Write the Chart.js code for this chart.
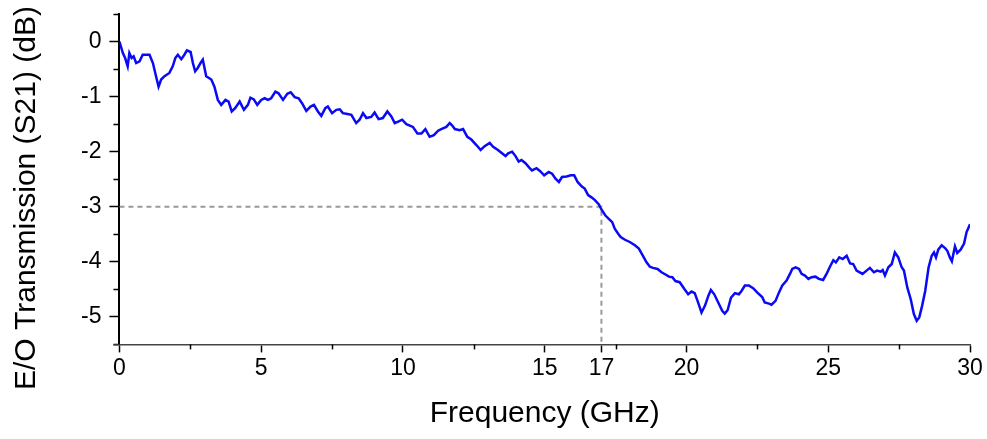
<!DOCTYPE html>
<html><head><meta charset="utf-8">
<script src="https://cdn.jsdelivr.net/npm/chart.js@4.4.0/dist/chart.umd.min.js"></script>
<style>html,body{margin:0;padding:0;background:#fff}#wrap{width:987px;height:439px;position:relative}</style>
</head><body><div id="wrap"><canvas id="c"></canvas></div>
<script>
const freqGHz = [0.0,0.12,0.2,0.29,0.35,0.43,0.5,0.59,0.71,0.82,0.94,1.06,1.18,1.29,1.38,1.47,1.59,1.76,1.88,1.97,2.06,2.18,2.29,2.38,2.51,2.59,2.67,2.76,2.86,2.94,3.06,3.24,3.35,3.47,3.59,3.74,3.85,3.96,4.08,4.24,4.39,4.53,4.62,4.74,4.86,5.0,5.12,5.24,5.35,5.5,5.61,5.77,5.92,6.04,6.18,6.32,6.44,6.59,6.74,6.86,7.0,7.12,7.26,7.35,7.5,7.65,7.77,7.88,8.0,8.18,8.35,8.47,8.59,8.71,8.88,9.0,9.14,9.29,9.45,9.59,9.71,9.85,9.97,10.12,10.35,10.51,10.65,10.79,10.94,11.09,11.24,11.35,11.53,11.65,11.73,11.83,12.0,12.12,12.27,12.41,12.59,12.74,12.88,13.06,13.18,13.35,13.47,13.62,13.71,13.85,13.97,14.08,14.18,14.32,14.47,14.55,14.71,14.83,14.98,15.14,15.26,15.38,15.5,15.61,15.77,15.92,16.04,16.16,16.3,16.41,16.53,16.65,16.77,16.91,17.0,17.14,17.26,17.38,17.47,17.59,17.68,17.83,18.0,18.18,18.32,18.44,18.59,18.71,18.82,18.98,19.12,19.26,19.38,19.5,19.61,19.76,19.92,20.06,20.18,20.29,20.39,20.53,20.65,20.77,20.86,20.98,21.12,21.26,21.35,21.45,21.57,21.71,21.85,21.94,22.06,22.2,22.35,22.5,22.67,22.76,22.91,23.0,23.14,23.26,23.38,23.53,23.65,23.73,23.85,23.97,24.06,24.18,24.3,24.41,24.55,24.67,24.82,24.94,25.06,25.18,25.27,25.39,25.51,25.65,25.77,25.88,26.0,26.21,26.35,26.47,26.61,26.72,26.85,26.92,27.0,27.12,27.24,27.35,27.47,27.59,27.67,27.79,27.91,28.02,28.12,28.21,28.31,28.42,28.54,28.65,28.73,28.8,28.88,29.0,29.12,29.2,29.29,29.36,29.47,29.55,29.67,29.79,29.88,30.0];
const s21dB = [0.0,-0.21,-0.30,-0.45,-0.21,-0.30,-0.27,-0.39,-0.36,-0.24,-0.24,-0.24,-0.39,-0.63,-0.82,-0.69,-0.63,-0.57,-0.45,-0.30,-0.24,-0.32,-0.24,-0.16,-0.19,-0.39,-0.54,-0.48,-0.39,-0.33,-0.63,-0.69,-0.82,-1.06,-1.15,-1.06,-1.09,-1.27,-1.21,-1.09,-1.24,-1.15,-1.02,-1.05,-1.15,-1.06,-1.03,-1.06,-1.03,-0.91,-0.94,-1.06,-0.95,-0.92,-1.01,-1.03,-1.12,-1.26,-1.18,-1.15,-1.27,-1.35,-1.21,-1.18,-1.30,-1.24,-1.23,-1.30,-1.31,-1.33,-1.48,-1.42,-1.30,-1.39,-1.37,-1.29,-1.41,-1.39,-1.27,-1.36,-1.48,-1.45,-1.42,-1.50,-1.55,-1.67,-1.67,-1.59,-1.73,-1.70,-1.62,-1.59,-1.55,-1.48,-1.52,-1.59,-1.61,-1.59,-1.73,-1.78,-1.88,-1.97,-1.90,-1.84,-1.91,-1.97,-2.02,-2.08,-2.03,-2.00,-2.08,-2.18,-2.15,-2.21,-2.30,-2.34,-2.30,-2.35,-2.43,-2.37,-2.40,-2.49,-2.55,-2.46,-2.45,-2.43,-2.43,-2.55,-2.63,-2.67,-2.79,-2.83,-2.88,-2.96,-3.05,-3.16,-3.22,-3.28,-3.40,-3.49,-3.55,-3.60,-3.64,-3.70,-3.76,-3.87,-4.01,-4.09,-4.11,-4.13,-4.19,-4.23,-4.27,-4.28,-4.35,-4.37,-4.49,-4.59,-4.54,-4.57,-4.71,-4.92,-4.80,-4.62,-4.51,-4.59,-4.74,-4.89,-4.94,-4.88,-4.65,-4.57,-4.59,-4.53,-4.43,-4.43,-4.48,-4.56,-4.64,-4.74,-4.76,-4.78,-4.71,-4.56,-4.43,-4.34,-4.22,-4.13,-4.10,-4.13,-4.22,-4.25,-4.31,-4.28,-4.27,-4.31,-4.33,-4.22,-4.09,-3.97,-4.01,-3.92,-3.95,-3.89,-4.03,-4.04,-4.16,-4.22,-4.16,-4.11,-4.19,-4.16,-4.18,-4.15,-4.25,-4.10,-4.04,-3.83,-3.92,-4.10,-4.16,-4.47,-4.68,-4.95,-5.07,-5.01,-4.80,-4.53,-4.10,-3.89,-3.83,-3.92,-3.78,-3.70,-3.75,-3.80,-3.92,-3.99,-3.72,-3.84,-3.78,-3.67,-3.46,-3.32];
const xMajorTicks = [0,5,10,15,17,20,25,30];
const xMinorTicks = [2.5,7.5,12.5,17.5,22.5,27.5];
const yMajorTicks = [-5,-4,-3,-2,-1,0];
const yMinorTicks = [-5.5,-4.5,-3.5,-2.5,-1.5,-0.5,0.5];
const cutoffFreq = 17;
const cutoffLevel = -3;
const xTitle = 'Frequency (GHz)';
const yTitle = 'E/O Transmission (S21) (dB)';

const FONT = '"Liberation Sans", Arial, sans-serif';

const extras = {
  id: 'extras',
  afterDraw(chart) {
    const {ctx, scales: {x, y}} = chart;
    ctx.save();
    ctx.strokeStyle = '#000';
    ctx.lineWidth = 1.5;
    xMinorTicks.forEach(v => {
      const px = Math.round(x.getPixelForValue(v)) + 0.5;
      ctx.beginPath(); ctx.moveTo(px, x.top); ctx.lineTo(px, x.top + 5); ctx.stroke();
    });
    yMinorTicks.forEach(v => {
      const py = Math.round(y.getPixelForValue(v)) + 0.5;
      ctx.beginPath(); ctx.moveTo(y.right, py); ctx.lineTo(y.right - 6, py); ctx.stroke();
    });
    ctx.strokeStyle = '#444';
    ctx.beginPath(); ctx.moveTo(y.right - 6, x.top + 0.5); ctx.lineTo(x.left, x.top + 0.5); ctx.stroke();
    ctx.translate(27, 198);
    ctx.rotate(-Math.PI / 2);
    ctx.font = '30px ' + FONT;
    ctx.fillStyle = '#000';
    ctx.textAlign = 'center';
    ctx.textBaseline = 'middle';
    ctx.fillText(yTitle, 0, 0);
    ctx.restore();
  }
};

new Chart(document.getElementById('c'), {
  type: 'line',
  data: {
    datasets: [
      {
        data: freqGHz.map((f, i) => ({x: f, y: s21dB[i]})),
        borderColor: '#0a0af5',
        borderWidth: 2.5,
        pointRadius: 0,
        tension: 0,
        fill: false
      },
      {
        data: [{x: 0, y: cutoffLevel}, {x: cutoffFreq, y: cutoffLevel}, {x: cutoffFreq, y: -5.5}],
        borderColor: '#999999',
        borderWidth: 2,
        borderDash: [5, 4],
        pointRadius: 0,
        tension: 0,
        fill: false
      }
    ]
  },
  options: {
    responsive: true,
    maintainAspectRatio: false,
    animation: false,
    layout: {padding: {left: 73, right: 17, top: 14, bottom: 7}},
    plugins: {legend: {display: false}, tooltip: {enabled: false}},
    scales: {
      x: {
        type: 'linear', min: 0, max: 30,
        afterBuildTicks: s => { s.ticks = xMajorTicks.concat(xMinorTicks).sort((a, b) => a - b).map(v => ({value: v})); },
        ticks: {
          autoSkip: false, maxRotation: 0, padding: 2, color: '#000',
          font: {family: FONT, size: 23},
          callback: v => xMajorTicks.includes(v) ? String(v) : null
        },
        grid: {
          drawOnChartArea: false, drawTicks: true, tickLength: 8, tickWidth: 1.5,
          tickColor: '#000'
        },
        border: {display: true, color: '#444', width: 1.5},
        title: {display: true, text: xTitle, color: '#000', font: {family: FONT, size: 30}, padding: {top: 12, bottom: 0}}
      },
      y: {
        type: 'linear', min: -5.5, max: 0.5,
        afterBuildTicks: s => { s.ticks = yMajorTicks.concat(yMinorTicks).sort((a, b) => a - b).map(v => ({value: v})); },
        afterFit: s => { s.paddingTop = 0; },
        ticks: {
          autoSkip: false, padding: 8, color: '#000',
          font: {family: FONT, size: 23},
          callback: v => yMajorTicks.includes(v) ? String(v) : null
        },
        grid: {
          drawOnChartArea: false, drawTicks: true, tickLength: 10, tickWidth: 1.5,
          tickColor: '#000'
        },
        border: {display: true, color: '#000', width: 2},
        title: {display: false}
      }
    }
  },
  plugins: [extras]
});
</script>
</body></html>
